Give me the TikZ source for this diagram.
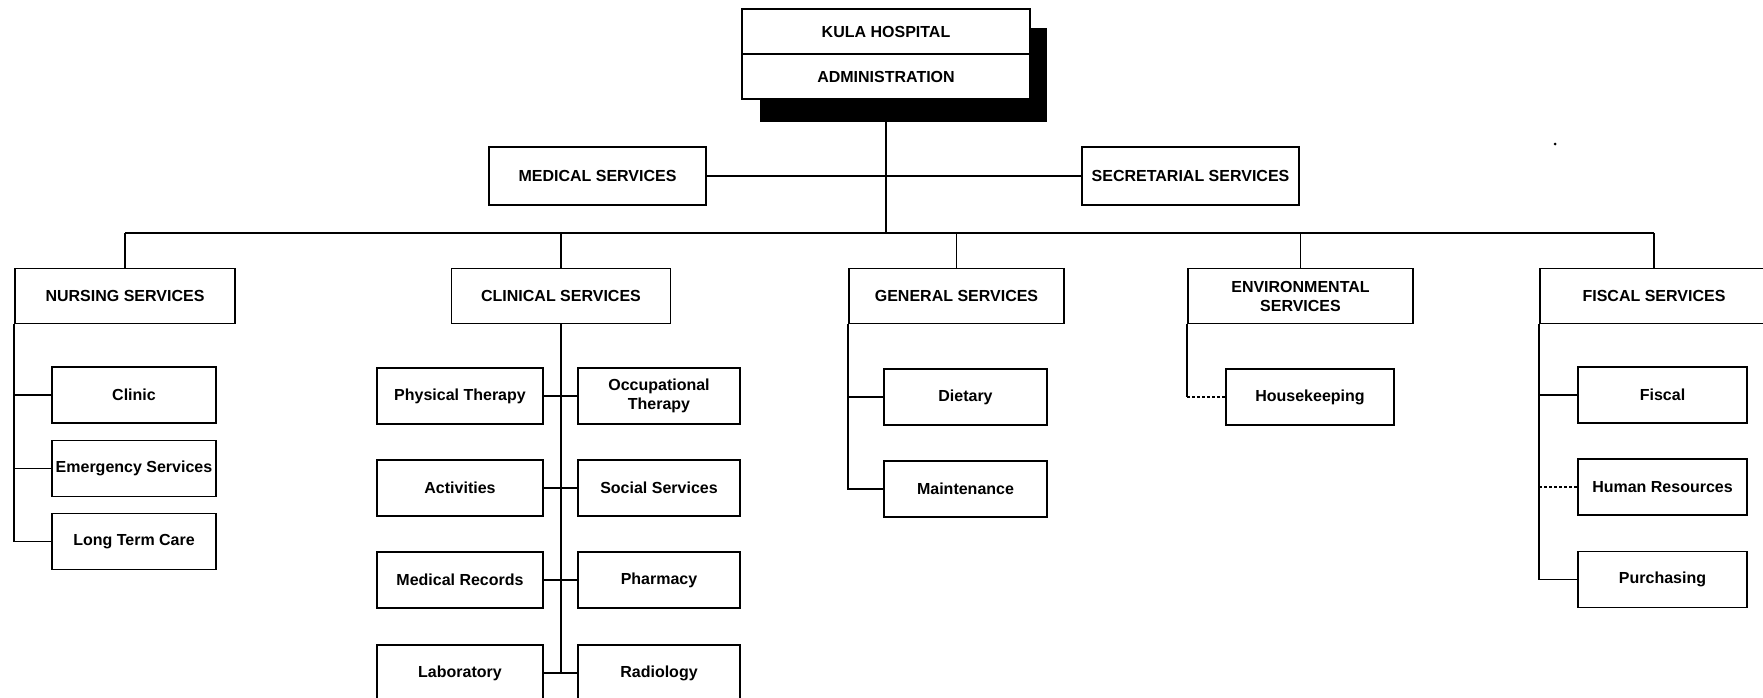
\documentclass[tikz,border=0pt]{standalone}
\usepackage{fontspec}
\setmainfont{Liberation Sans}
\tikzset{
  box/.style={draw, rectangle, line width=1.6pt, fill=white, align=center, inner sep=0pt,
    font=\bfseries\fontsize{16}{19}\selectfont},
  conn/.style={line width=1.6pt},
  dconn/.style={line width=1.6pt, dash pattern=on 3pt off 2pt},
}
\newcommand\bx[6]{\node[box, minimum width=#4pt, minimum height=#5pt] (#1) at (#2,#3) {#6};}
\begin{document}
\begin{tikzpicture}[x=1pt,y=-1pt]
\useasboundingbox (0,0) rectangle (1763,698);
\clip (0,0) rectangle (1763,698);
% shadow of the title box
\fill (760,28) rectangle (1047,122);
% title
\bx{hosp}{886}{31.5}{288}{45}{KULA HOSPITAL}
\bx{admin}{886}{76.5}{288}{45}{ADMINISTRATION}
% staff
\bx{med}{597.5}{176}{217}{58}{MEDICAL SERVICES}
\bx{sec}{1190.5}{176}{217}{58}{SECRETARIAL SERVICES}
% departments
\bx{nurs}{125}{296}{220}{55}{NURSING SERVICES}
\bx{clin}{561}{296}{219}{55}{CLINICAL SERVICES}
\bx{gen}{956.5}{296}{215}{55}{GENERAL SERVICES}
\bx{env}{1300.5}{296}{225}{55}{ENVIRONMENTAL\\SERVICES}
\bx{fisc}{1654}{296}{228}{55}{FISCAL SERVICES}
% nursing children
\bx{clinic}{134}{395}{164}{56}{Clinic}
\bx{emerg}{134}{468.5}{164}{56}{Emergency Services}
\bx{ltc}{134}{541.5}{164}{56}{Long Term Care}
% clinical children
\bx{pt}{460}{396}{166}{56}{Physical Therapy}
\bx{ot}{659}{396}{162}{56}{Occupational\\Therapy}
\bx{act}{460}{488}{166}{56}{Activities}
\bx{soc}{659}{488}{162}{56}{Social Services}
\bx{mr}{460}{580}{166}{56}{Medical Records}
\bx{pharm}{659}{580}{162}{56}{Pharmacy}
\bx{lab}{460}{673}{166}{56}{Laboratory}
\bx{rad}{659}{673}{162}{56}{Radiology}
% general children
\bx{diet}{965.5}{397}{163}{56}{Dietary}
\bx{maint}{965.5}{489}{163}{56}{Maintenance}
% environmental child
\bx{house}{1310}{397}{168}{56}{Housekeeping}
% fiscal children
\bx{fiscal}{1662.5}{395}{169}{56}{Fiscal}
\bx{hr}{1662.5}{487}{169}{56}{Human Resources}
\bx{purch}{1662.5}{579.5}{169}{56}{Purchasing}
% bus
\coordinate (bus) at (0,233);
\draw[conn] (admin.south) -- (admin.south |- bus);
\draw[conn] (med.east) -- (sec.west);
\draw[conn] (nurs.north |- bus) -- (fisc.north |- bus);
\foreach \n in {nurs,clin,gen,env,fisc}{
  \draw[conn] (\n.north) -- (\n.north |- bus);
}
% nursing
\draw[conn] (nurs.south west) |- (ltc.west);
\draw[conn] (nurs.south west |- clinic.west) -- (clinic.west);
\draw[conn] (nurs.south west |- emerg.west) -- (emerg.west);
% clinical
\draw[conn] (clin.south) -- (clin.south |- lab.east);
\draw[conn] (pt.east) -- (ot.west);
\draw[conn] (act.east) -- (soc.west);
\draw[conn] (mr.east) -- (pharm.west);
\draw[conn] (lab.east) -- (rad.west);
% general
\draw[conn] (gen.south west) |- (maint.west);
\draw[conn] (gen.south west |- diet.west) -- (diet.west);
% environmental
\coordinate (envc) at (env.south west |- house.west);
\draw[conn] (env.south west) -- (envc);
\draw[dconn] (envc) -- (house.west);
% fiscal
\draw[conn] (fisc.south west) |- (purch.west);
\draw[conn] (fisc.south west |- fiscal.west) -- (fiscal.west);
\draw[dconn] (fisc.south west |- hr.west) -- (hr.west);
% stray dot
\fill (1555,144) circle (1.5);
\end{tikzpicture}
\end{document}
